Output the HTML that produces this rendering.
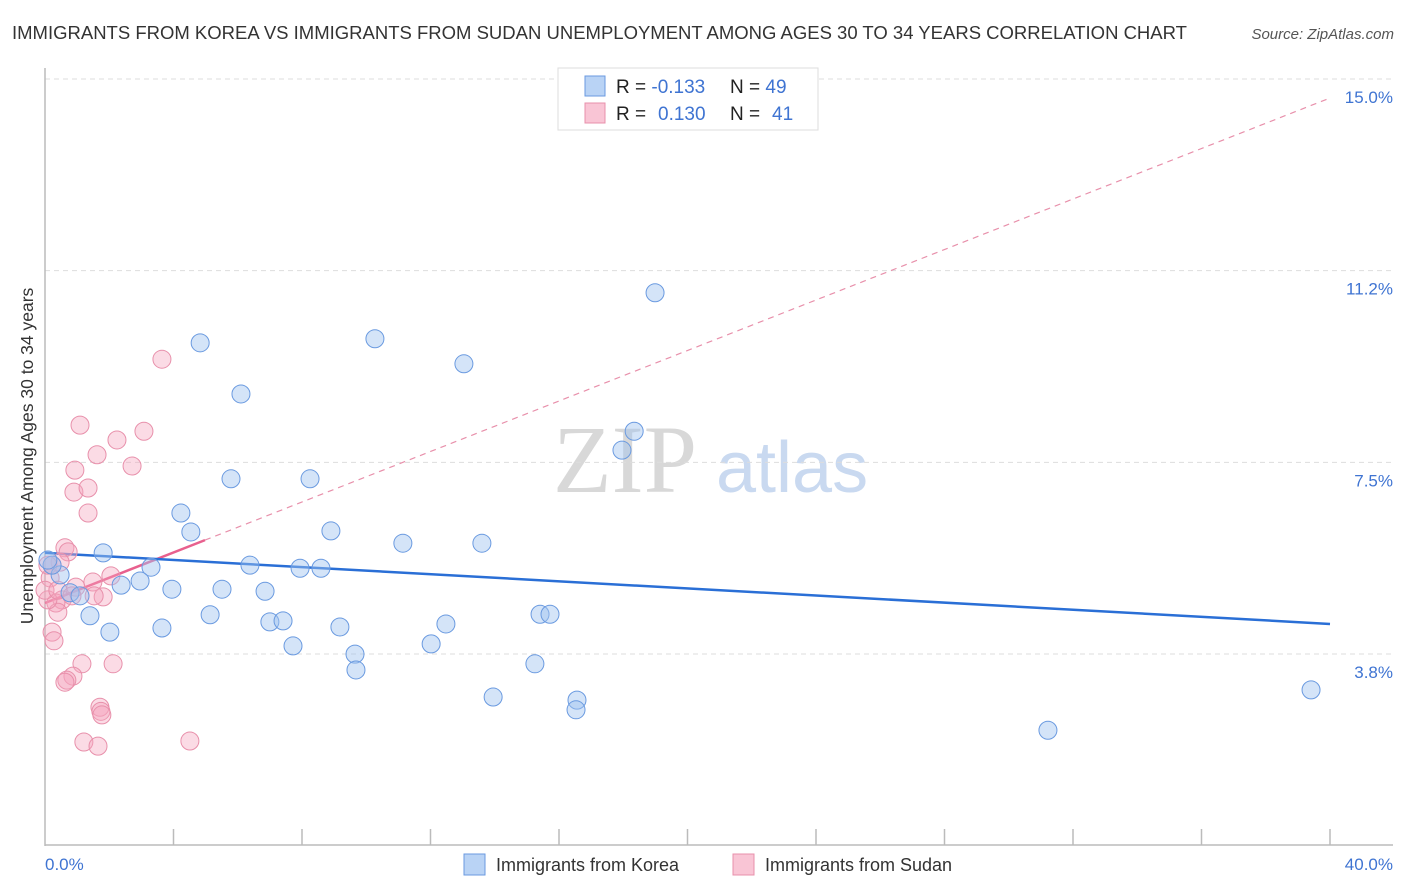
<!DOCTYPE html>
<html><head><meta charset="utf-8"><style>
body{margin:0;background:#fff;}
svg{display:block;font-family:"Liberation Sans",sans-serif;}
</style></head><body>
<svg id="chart" width="1406" height="892">
<text x="12" y="39" font-size="18.5" fill="#333">IMMIGRANTS FROM KOREA VS IMMIGRANTS FROM SUDAN UNEMPLOYMENT AMONG AGES 30 TO 34 YEARS CORRELATION CHART</text>
<text x="1394" y="39" font-size="15" fill="#555" font-style="italic" text-anchor="end">Source: ZipAtlas.com</text>
<g>
<text x="553" y="492" font-size="96" font-family="Liberation Serif,serif" fill="#d8d8d8">ZIP</text>
<text x="716" y="492" font-size="72" fill="#c9d9f0">atlas</text>
</g>
<g id="grid"></g>
<line x1="45" y1="68" x2="45" y2="846" stroke="#bbb" stroke-width="1.5"/>
<line x1="45" y1="845" x2="1393" y2="845" stroke="#bbb" stroke-width="1.5"/>
<g id="xticks"></g>
<text transform="translate(33,456) rotate(-90)" font-size="17.5" fill="#333" text-anchor="middle">Unemployment Among Ages 30 to 34 years</text>
<text x="45" y="870" font-size="17" fill="#3f74d2">0.0%</text>
<text x="1393" y="870" font-size="17" fill="#3f74d2" text-anchor="end">40.0%</text>
<g id="lines"></g>
<g id="pts"></g>
<g>
<rect x="558" y="68" width="260" height="62" fill="#fff" stroke="#ddd"/>
<rect x="585" y="76" width="20" height="20" fill="#b9d3f5" stroke="#6a9ae0"/>
<rect x="585" y="103" width="20" height="20" fill="#f9c5d5" stroke="#e890ab"/>
<text x="616" y="93" font-size="19" fill="#222">R = <tspan fill="#3f74d2">-0.133</tspan><tspan x="730">N = </tspan><tspan fill="#3f74d2">49</tspan></text>
<text x="616" y="120" font-size="19" fill="#222">R = <tspan x="658" fill="#3f74d2">0.130</tspan><tspan x="730">N = </tspan><tspan x="772" fill="#3f74d2">41</tspan></text>
</g>
<g>
<rect x="464" y="854" width="21" height="21" fill="#b9d3f5" stroke="#6a9ae0"/>
<text x="496" y="871" font-size="18" fill="#333">Immigrants from Korea</text>
<rect x="733" y="854" width="21" height="21" fill="#f9c5d5" stroke="#e890ab"/>
<text x="765" y="871" font-size="18" fill="#333">Immigrants from Sudan</text>
</g>
</svg>
<script>
const yTicks=[3.75,7.5,11.25,15];
const yTickLabels=["3.8%","7.5%","11.2%","15.0%"];
const koreaX=[4.83,10.27,18.99,13.04,6.10,18.34,17.96,5.79,8.25,4.23,4.54,8.90,1.81,11.14,13.60,6.38,7.94,8.59,3.30,2.96,2.37,3.95,5.51,6.85,0.47,0.22,0.78,1.09,1.40,5.14,15.41,15.72,7.00,7.41,9.18,12.48,2.02,3.64,7.72,12.02,9.65,9.68,15.25,13.95,16.56,16.53,39.41,31.22,0.09];
const koreaY=[10.19,10.27,11.17,9.78,9.19,8.46,8.09,7.53,7.53,6.86,6.49,6.51,6.08,6.27,6.27,5.84,5.78,5.78,5.80,5.53,5.45,5.37,5.37,5.33,5.65,5.84,5.30,5.24,4.85,4.87,4.88,4.88,4.73,4.75,4.63,4.69,4.53,4.61,4.26,4.30,4.10,3.79,3.91,3.26,3.20,3.01,3.40,2.61,5.94];
const sudanX=[3.64,1.09,3.08,2.24,1.62,2.71,0.93,0.90,1.34,1.34,0.62,0.72,0.47,0.22,0.16,0.96,1.49,2.05,1.81,1.53,0.53,0.34,0.40,0.09,0.22,0.28,1.15,2.12,0.87,0.68,0.62,1.71,1.74,1.77,1.21,1.65,4.51,0.09,0.00,0.40,0.84];
const sudanY=[9.87,8.58,8.46,8.29,8.00,7.78,7.70,7.27,7.35,6.86,6.18,6.10,5.90,5.84,5.59,5.41,5.51,5.63,5.22,5.24,5.16,5.10,4.92,5.16,4.53,4.36,3.91,3.91,3.67,3.59,3.55,3.06,2.98,2.91,2.38,2.30,2.40,5.84,5.35,5.35,5.24];
const koreaTrend=[6.08,4.69];   // value at x=0 and x=40
const sudanTrend=[5.10,0.247];  // intercept, slope
const sudanSolidEnd=4.98;
const NS="http://www.w3.org/2000/svg";
const X=v=>45+v/40*1285;
const Y=v=>97+(15-v)*51.11;
function mk(tag,attrs,parent){const e=document.createElementNS(NS,tag);for(const k in attrs)e.setAttribute(k,attrs[k]);parent.appendChild(e);return e;}
const grid=document.getElementById('grid');
yTicks.forEach((t,i)=>{
  const l=mk('line',{x1:45,x2:1393,y1:Y(t)-18,y2:Y(t)-18,stroke:'#ddd','stroke-dasharray':'5,4'},grid);
  
  
  const tx=mk('text',{x:1393,y:Y(t)+6,'font-size':17,fill:'#3f74d2','text-anchor':'end'},grid);
  tx.textContent=yTickLabels[i];
  
  
});
const xt=document.getElementById('xticks');
for(let i=1;i<=10;i++){
  const l=mk('line',{x1:X(i*4),x2:X(i*4),y1:829,y2:845,stroke:'#bbb','stroke-width':1.5},xt);
  
  
}
const lg=document.getElementById('lines');
const sY=x=>sudanTrend[0]+sudanTrend[1]*x;
let d=mk('line',{x1:X(sudanSolidEnd),y1:Y(sY(sudanSolidEnd)),x2:X(40),y2:Y(sY(40)),stroke:'#e890ab','stroke-width':1.2,'stroke-dasharray':'6,5'},lg);


d=mk('line',{x1:X(0),y1:Y(sY(0)),x2:X(sudanSolidEnd),y2:Y(sY(sudanSolidEnd)),stroke:'#e8608e','stroke-width':2.5},lg);


d=mk('line',{x1:X(0),y1:Y(koreaTrend[0]),x2:X(40),y2:Y(koreaTrend[1]),stroke:'#2a6fd6','stroke-width':2.5},lg);


const pg=document.getElementById('pts');
sudanX.forEach((x,i)=>{
  const c=mk('circle',{cx:X(x),cy:Y(sudanY[i]),r:9,fill:'rgba(245,165,190,0.4)',stroke:'#e890ab','stroke-width':1},pg);
  
  
});
koreaX.forEach((x,i)=>{
  const c=mk('circle',{cx:X(x),cy:Y(koreaY[i]),r:9,fill:'rgba(160,196,240,0.45)',stroke:'#6a9ae0','stroke-width':1},pg);
  
  
});
</script>
</body></html>
